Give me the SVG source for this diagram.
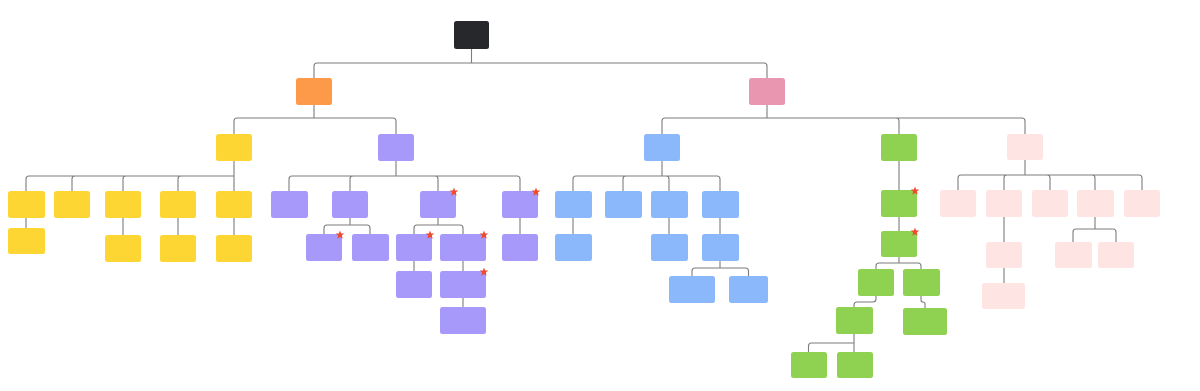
<svg xmlns="http://www.w3.org/2000/svg" width="1200" height="391" viewBox="0 0 1200 391">
<defs>
<style>
.n{rx:2.5;ry:2.5}
.root{fill:#26282c}
.or{fill:#fd9a4a}
.pk{fill:#e996b1}
.ye{fill:#fdd634}
.pu{fill:#a699fa}
.bl{fill:#8ab8fb}
.gr{fill:#8fd150}
.lp{fill:#fee4e2}
.c path{fill:none;stroke:#7d7d7d;stroke-width:1.1}
.star{fill:#ee4a2c}
</style>
<polygon id="st" class="star" points="0,-4.5 1.12,-1.54 4.28,-1.39 1.81,0.59 2.65,3.64 0,1.9 -2.65,3.64 -1.81,0.59 -4.28,-1.39 -1.12,-1.54"/>
</defs>
<rect width="1200" height="391" fill="#ffffff"/>
<g id="connectors" class="c">
<path d="M471.5,49V63M471.5,63H317Q314,63 314,66V78M471.5,63H764Q767,63 767,66V78"/>
<path d="M314,105V118M314,118H237Q234,118 234,121V134M314,118H393Q396,118 396,121V134"/>
<path d="M767,105V118M767,118H665Q662,118 662,121V134M767,118H896Q899,118 899,121V134M767,118H1022Q1025,118 1025,121V134"/>
<path d="M234,161V191M234,176H29Q26,176 26,179V191M234,176H75Q72,176 72,179V191M234,176H126Q123,176 123,179V191M234,176H181Q178,176 178,179V191"/>
<path d="M26,218V228M123,218V235M178,218V235M234,218V235"/>
<path d="M396,161V176M396,176H292Q289,176 289,179V191M396,176H353Q350,176 350,179V191M396,176H435Q438,176 438,179V191M396,176H517Q520,176 520,179V191"/>
<path d="M350,218V225M350,225H327Q324,225 324,228V234M350,225H367Q370,225 370,228V234"/>
<path d="M438,218V225M438,225H417Q414,225 414,228V234M438,225H460Q463,225 463,228V234"/>
<path d="M520,218V234M414,261V271M463,261V271M463,298V307"/>
<path d="M662,161V176M662,176H576Q573,176 573,179V191M662,176H626Q623,176 623,179V191M662,176H666Q669,176 669,179V191M662,176H717Q720,176 720,179V191"/>
<path d="M573,218V234M669,218V234M720,218V234"/>
<path d="M720,261V268M720,268H695Q692,268 692,271V276M720,268H745.5Q748.5,268 748.5,271V276"/>
<path d="M899,161V190M899,217V231M899,257V263M899,263H879Q876,263 876,266V269M899,263H918Q921,263 921,266V269"/>
<path d="M876,296V299Q876,302 873,302H857Q854,302 854,305V307M921,296V300Q921,302 923,302Q925,302 925,304V308"/>
<path d="M854,334V352M854,343H811.5Q808.5,343 808.5,346V352"/>
<path d="M1025,160V175M1025,175H961Q958,175 958,178V190M1025,175H1007Q1004,175 1004,178V190M1025,175H1047Q1050,175 1050,178V190M1025,175H1092Q1095,175 1095,178V190M1025,175H1139Q1142,175 1142,178V190"/>
<path d="M1004,217V242M1004,268V283"/>
<path d="M1095,217V229M1095,229H1076Q1073,229 1073,232V242M1095,229H1113Q1116,229 1116,232V242"/>
</g>
<g id="root"><rect class="n root" x="454" y="21" width="35" height="28"/></g>
<g id="n-orange"><rect class="n or" x="296" y="78" width="36" height="27"/></g>
<g id="n-pink"><rect class="n pk" x="749" y="78" width="36" height="27"/></g>
<g id="n-y"><rect class="n ye" x="216" y="134" width="36" height="27"/></g>
<g id="n-y1"><rect class="n ye" x="8" y="191" width="37" height="27"/></g>
<g id="n-y1a"><rect class="n ye" x="8" y="228" width="37" height="26"/></g>
<g id="n-y2"><rect class="n ye" x="54" y="191" width="36" height="27"/></g>
<g id="n-y3"><rect class="n ye" x="105" y="191" width="36" height="27"/></g>
<g id="n-y3a"><rect class="n ye" x="105" y="235" width="36" height="27"/></g>
<g id="n-y4"><rect class="n ye" x="160" y="191" width="36" height="27"/></g>
<g id="n-y4a"><rect class="n ye" x="160" y="235" width="36" height="27"/></g>
<g id="n-y5"><rect class="n ye" x="216" y="191" width="36" height="27"/></g>
<g id="n-y5a"><rect class="n ye" x="216" y="235" width="36" height="27"/></g>
<g id="n-p"><rect class="n pu" x="378" y="134" width="36" height="27"/></g>
<g id="n-p1"><rect class="n pu" x="271" y="191" width="37" height="27"/></g>
<g id="n-p2"><rect class="n pu" x="332" y="191" width="36" height="27"/></g>
<g id="n-p2a"><rect class="n pu" x="306" y="234" width="36" height="27"/><use href="#st" x="340" y="235"/></g>
<g id="n-p2b"><rect class="n pu" x="352" y="234" width="37" height="27"/></g>
<g id="n-p3"><rect class="n pu" x="420" y="191" width="36" height="27"/><use href="#st" x="454" y="192"/></g>
<g id="n-p3a"><rect class="n pu" x="396" y="234" width="36" height="27"/><use href="#st" x="430" y="235"/></g>
<g id="n-p3a1"><rect class="n pu" x="396" y="271" width="36" height="27"/></g>
<g id="n-p3b"><rect class="n pu" x="440" y="234" width="46" height="27"/><use href="#st" x="484" y="235"/></g>
<g id="n-p3b1"><rect class="n pu" x="440" y="271" width="46" height="27"/><use href="#st" x="484" y="272"/></g>
<g id="n-p3b2"><rect class="n pu" x="440" y="307" width="46" height="27"/></g>
<g id="n-p4"><rect class="n pu" x="502" y="191" width="36" height="27"/><use href="#st" x="536" y="192"/></g>
<g id="n-p4a"><rect class="n pu" x="502" y="234" width="36" height="27"/></g>
<g id="n-b"><rect class="n bl" x="644" y="134" width="36" height="27"/></g>
<g id="n-b1"><rect class="n bl" x="555" y="191" width="37" height="27"/></g>
<g id="n-b1a"><rect class="n bl" x="555" y="234" width="37" height="27"/></g>
<g id="n-b2"><rect class="n bl" x="605" y="191" width="37" height="27"/></g>
<g id="n-b3"><rect class="n bl" x="651" y="191" width="37" height="27"/></g>
<g id="n-b3a"><rect class="n bl" x="651" y="234" width="37" height="27"/></g>
<g id="n-b4"><rect class="n bl" x="702" y="191" width="37" height="27"/></g>
<g id="n-b4a"><rect class="n bl" x="702" y="234" width="37" height="27"/></g>
<g id="n-b4a1"><rect class="n bl" x="669" y="276" width="46" height="27"/></g>
<g id="n-b4a2"><rect class="n bl" x="729" y="276" width="39" height="27"/></g>
<g id="n-g"><rect class="n gr" x="881" y="134" width="36" height="27"/></g>
<g id="n-g1"><rect class="n gr" x="881" y="190" width="36" height="27"/><use href="#st" x="915" y="191"/></g>
<g id="n-g2"><rect class="n gr" x="881" y="231" width="36" height="26"/><use href="#st" x="915" y="232"/></g>
<g id="n-g2a"><rect class="n gr" x="858" y="269" width="36" height="27"/></g>
<g id="n-g2a1"><rect class="n gr" x="836" y="307" width="37" height="27"/></g>
<g id="n-g2a1a"><rect class="n gr" x="791" y="352" width="36" height="26"/></g>
<g id="n-g2a1b"><rect class="n gr" x="837" y="352" width="36" height="26"/></g>
<g id="n-g2b"><rect class="n gr" x="903" y="269" width="37" height="27"/></g>
<g id="n-g2b1"><rect class="n gr" x="903" y="308" width="44" height="27"/></g>
<g id="n-k"><rect class="n lp" x="1007" y="134" width="36" height="26"/></g>
<g id="n-k1"><rect class="n lp" x="940" y="190" width="36" height="27"/></g>
<g id="n-k2"><rect class="n lp" x="986" y="190" width="36" height="27"/></g>
<g id="n-k2a"><rect class="n lp" x="986" y="242" width="36" height="26"/></g>
<g id="n-k2a1"><rect class="n lp" x="982" y="283" width="43" height="26"/></g>
<g id="n-k3"><rect class="n lp" x="1032" y="190" width="36" height="27"/></g>
<g id="n-k4"><rect class="n lp" x="1077" y="190" width="37" height="27"/></g>
<g id="n-k4a"><rect class="n lp" x="1055" y="242" width="37" height="26"/></g>
<g id="n-k4b"><rect class="n lp" x="1098" y="242" width="36" height="26"/></g>
<g id="n-k5"><rect class="n lp" x="1124" y="190" width="36" height="27"/></g>
</svg>
